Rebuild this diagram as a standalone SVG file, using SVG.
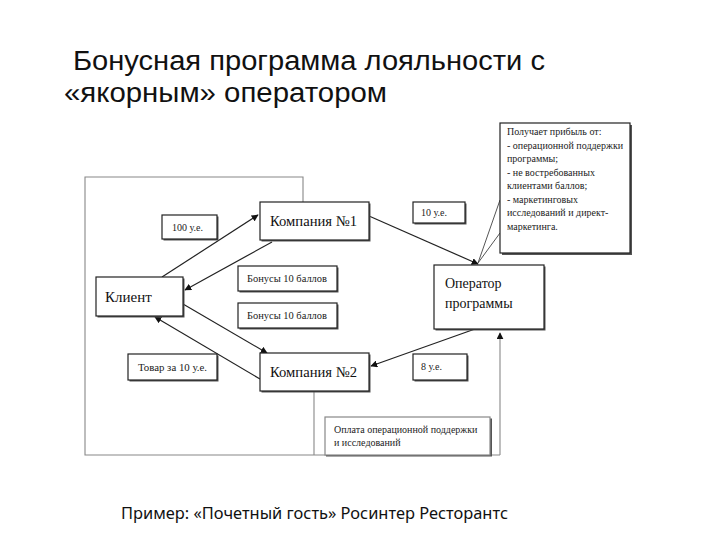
<svg xmlns="http://www.w3.org/2000/svg" width="720" height="540" viewBox="0 0 720 540">
<style>
.title{font-family:"Liberation Sans",Arial,sans-serif;font-size:27px;fill:#111}
.foot{font-family:"Noto Sans","Open Sans",sans-serif;font-size:15.5px;fill:#111}
.box{fill:#fff;stroke:#222;stroke-width:1.2}
.shd{fill:#555}
.big{font-family:"Liberation Serif","Times New Roman",serif;font-size:15px;fill:#111}
.mid{font-family:"Liberation Serif","Times New Roman",serif;font-size:14px;fill:#111}
.sm{font-family:"Liberation Serif","Times New Roman",serif;font-size:10px;fill:#222}
.arr{fill:none;stroke:#222;stroke-width:1.2;marker-end:url(#ah)}
.frame{fill:none;stroke:#888;stroke-width:1.1}
.fl{fill:none;stroke:#555;stroke-width:1}
</style>
<defs>
<marker id="ah" viewBox="0 0 10 10" refX="9" refY="5" markerWidth="7" markerHeight="7" markerUnits="userSpaceOnUse" orient="auto">
<path d="M0,0 L10,5 L0,10 z" fill="#111"/>
</marker>
</defs>
<rect width="720" height="540" fill="#fff"/>
<text class="title" x="73" y="70" textLength="472" lengthAdjust="spacingAndGlyphs">Бонусная программа лояльности с</text>
<text class="title" x="64" y="102" textLength="323" lengthAdjust="spacingAndGlyphs">«якорным» оператором</text>

<g id="connectors">
<polyline class="frame" points="303,202 303,177 85,177 85,455 500,455"/>
<line class="frame" x1="314" y1="391" x2="314" y2="455"/>
<line class="frame" x1="500" y1="455" x2="500" y2="333" marker-end="url(#ah)"/>
<line class="arr" x1="162" y1="277" x2="258" y2="215"/>
<line class="arr" x1="272" y1="242" x2="185" y2="290"/>
<line class="arr" x1="369" y1="216" x2="478" y2="264"/>
<line class="arr" x1="183" y1="304" x2="267" y2="353"/>
<line class="arr" x1="260" y1="379" x2="155" y2="317"/>
<line class="arr" x1="475" y1="329" x2="371" y2="366"/>
<polyline class="fl" points="500,200 478,263 500,233"/>
</g>

<g id="company1">
<rect class="shd" x="261.5" y="203.5" width="109" height="38"/>
<rect class="box" x="260" y="202" width="109" height="38"/>
<text class="big" x="270" y="226" textLength="87" lengthAdjust="spacingAndGlyphs">Компания №1</text>
</g>
<g id="client">
<rect class="shd" x="97.5" y="278.5" width="87" height="39"/>
<rect class="box" x="96" y="277" width="87" height="39"/>
<text class="big" x="105" y="302">Клиент</text>
</g>
<g id="company2">
<rect class="shd" x="261.5" y="354.5" width="109" height="38"/>
<rect class="box" x="260" y="353" width="109" height="38"/>
<text class="big" x="270" y="377" textLength="87" lengthAdjust="spacingAndGlyphs">Компания №2</text>
</g>
<g id="operator">
<rect class="shd" x="435.5" y="266.5" width="110" height="64"/>
<rect class="box" x="434" y="265" width="110" height="64"/>
<text class="mid" x="445" y="288">Оператор</text>
<text class="mid" x="445" y="308">программы</text>
</g>
<g id="label-100">
<rect class="shd" x="163.5" y="216.5" width="55" height="24"/>
<rect class="box" x="162" y="215" width="55" height="24"/>
<text class="sm" x="172" y="231">100 у.е.</text>
</g>
<g id="label-10">
<rect class="shd" x="414.5" y="203.5" width="52" height="21"/>
<rect class="box" x="413" y="202" width="52" height="21"/>
<text class="sm" x="421" y="216">10 у.е.</text>
</g>
<g id="label-bonus1">
<rect class="shd" x="239.5" y="267.5" width="99" height="25"/>
<rect class="box" x="238" y="266" width="99" height="25"/>
<text class="sm" x="247" y="282" textLength="80" lengthAdjust="spacingAndGlyphs">Бонусы 10 баллов</text>
</g>
<g id="label-bonus2">
<rect class="shd" x="239.5" y="304.5" width="99" height="25"/>
<rect class="box" x="238" y="303" width="99" height="25"/>
<text class="sm" x="247" y="319" textLength="80" lengthAdjust="spacingAndGlyphs">Бонусы 10 баллов</text>
</g>
<g id="label-goods">
<rect class="shd" x="129.5" y="355.5" width="89" height="26"/>
<rect class="box" x="128" y="354" width="89" height="26"/>
<text class="sm" x="138" y="371" textLength="69" lengthAdjust="spacingAndGlyphs">Товар за 10 у.е.</text>
</g>
<g id="label-8">
<rect class="shd" x="414.5" y="355.5" width="54" height="26"/>
<rect class="box" x="413" y="354" width="54" height="26"/>
<text class="sm" x="421" y="370">8 у.е.</text>
</g>
<g id="label-payment">
<rect class="shd" x="326" y="418.5" width="166" height="38"/>
<rect class="box" x="325" y="417" width="165" height="38" style="stroke:#888"/>
<text class="sm" x="334" y="433">Оплата операционной поддержки</text>
<text class="sm" x="334" y="446">и исследований</text>
</g>
<g id="callout">
<rect class="shd" x="502" y="125" width="130" height="130"/>
<rect class="box" x="500" y="123" width="130" height="130"/>
<text class="sm" x="507" y="135">Получает прибыль от:</text>
<text class="sm" x="507" y="149">- операционной поддержки</text>
<text class="sm" x="507" y="162">программы;</text>
<text class="sm" x="507" y="176">- не востребованных</text>
<text class="sm" x="507" y="189">клиентами баллов;</text>
<text class="sm" x="507" y="203">- маркетинговых</text>
<text class="sm" x="507" y="216">исследований и директ-</text>
<text class="sm" x="507" y="230">маркетинга.</text>
</g>
<text class="foot" x="121" y="519" textLength="387" lengthAdjust="spacingAndGlyphs">Пример: «Почетный гость» Росинтер Ресторантс</text>
</svg>
